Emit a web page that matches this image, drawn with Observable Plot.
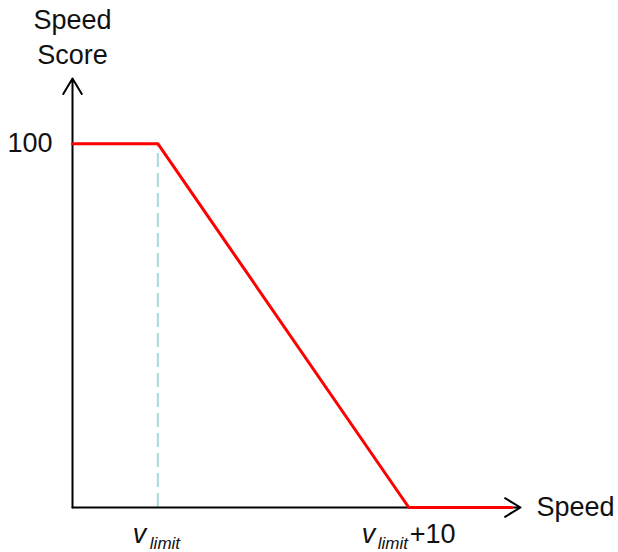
<!DOCTYPE html>
<html>
<head>
<meta charset="utf-8">
<script src="https://cdn.jsdelivr.net/npm/d3@7"></script>
<script src="https://cdn.jsdelivr.net/npm/@observablehq/plot@0.6"></script>
<style>
  html, body { margin: 0; padding: 0; background: #fff; }
  #chart svg { display: block; }
</style>
</head>
<body>
<div id="chart"></div>
<script>
// Speed relative to the limit (v_limit = 0), schematic units
const speedOffsets = [-3.4, 0, 10, 14.1];
const speedScores = [100, 100, 0, 0];
const vLimit = 0;
const vLimitPlus10 = 10;
const axisStart = -3.4;
const axisXEnd = 14.45;
const axisYEnd = 117.9;
const yTickValue = 100;
const yTickLabel = "100";
const yTitle = "Speed\nScore";
const xTitle = "Speed";

const font = "'Liberation Sans', Arial, sans-serif";
const line = speedOffsets.map((x, i) => ({x, y: speedScores[i]}));

const chart = Plot.plot({
  width: 618,
  height: 552,
  marginLeft: 72,
  marginRight: 98,
  marginTop: 78,
  marginBottom: 45,
  x: {domain: [axisStart, axisXEnd], axis: null},
  y: {domain: [0, axisYEnd], axis: null},
  style: {fontFamily: font, background: "#fff"},
  marks: [
    // dashed guide at v_limit
    Plot.ruleX([vLimit], {y1: 0, y2: yTickValue, stroke: "#a6d8dc", strokeWidth: 2, strokeDasharray: "14,6"}),
    // axes with arrowheads
    Plot.arrow([{x1: axisStart, y1: 0, x2: axisXEnd, y2: 0}], {x1: "x1", y1: "y1", x2: "x2", y2: "y2", stroke: "#000", strokeWidth: 2, headLength: 13.5, headAngle: 62}),
    Plot.arrow([{x1: axisStart, y1: 0, x2: axisStart, y2: axisYEnd}], {x1: "x1", y1: "y1", x2: "x2", y2: "y2", stroke: "#000", strokeWidth: 2, headLength: 13.5, headAngle: 62}),
    // score curve
    Plot.line(line, {x: "x", y: "y", stroke: "#ff0000", strokeWidth: 3, strokeLinejoin: "miter"}),
    // y tick label
    Plot.text([yTickLabel], {x: axisStart, y: yTickValue, text: d => d, textAnchor: "end", dx: -20, fontSize: 27, fill: "#111"}),
    // y title
    Plot.text([yTitle], {x: axisStart, y: axisYEnd, text: d => d, textAnchor: "middle", lineAnchor: "bottom", lineHeight: 1.26, dy: -15, fontSize: 27, fill: "#111"}),
    // x title
    Plot.text([xTitle], {x: axisXEnd, y: 0, text: d => d, textAnchor: "start", lineAnchor: "bottom", dx: 16, dy: 8, fontSize: 27, fill: "#111"}),
    // v_limit label
    Plot.text(["v"], {x: vLimit, y: 0, text: d => d, textAnchor: "start", lineAnchor: "bottom", dx: -25, dy: 35, fontSize: 27, fontStyle: "italic", fill: "#111"}),
    Plot.text(["limit"], {x: vLimit, y: 0, text: d => d, textAnchor: "start", lineAnchor: "bottom", dx: -8, dy: 41, fontSize: 17, fontStyle: "italic", fill: "#111"}),
    // v_limit+10 label
    Plot.text(["v"], {x: vLimitPlus10, y: 0, text: d => d, textAnchor: "start", lineAnchor: "bottom", dx: -47, dy: 35, fontSize: 27, fontStyle: "italic", fill: "#111"}),
    Plot.text(["limit"], {x: vLimitPlus10, y: 0, text: d => d, textAnchor: "start", lineAnchor: "bottom", dx: -31, dy: 41, fontSize: 17, fontStyle: "italic", fill: "#111"}),
    Plot.text(["+10"], {x: vLimitPlus10, y: 0, text: d => d, textAnchor: "start", lineAnchor: "bottom", dx: 1, dy: 35, fontSize: 27, fill: "#111"})
  ]
});
document.getElementById("chart").appendChild(chart);
</script>
</body>
</html>
